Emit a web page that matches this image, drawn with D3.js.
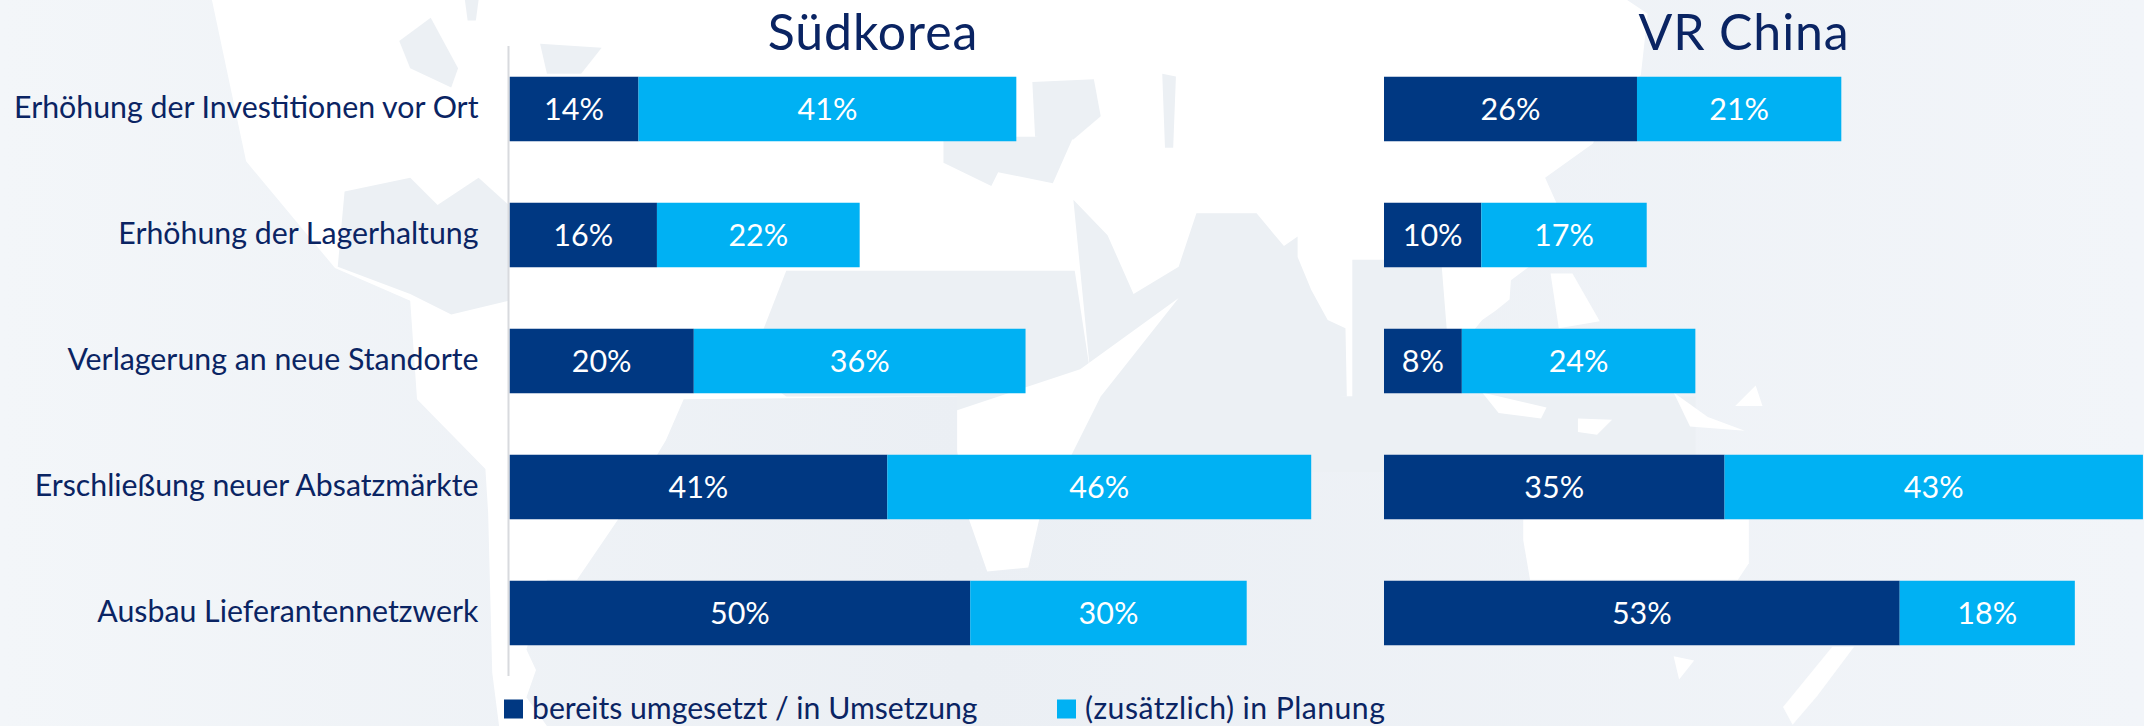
<!DOCTYPE html>
<html lang="de">
<head>
<meta charset="UTF-8" />
<title>Südkorea / VR China</title>
<script src="https://cdn.jsdelivr.net/npm/d3@7"></script>
<style>
  html, body { margin: 0; padding: 0; background: #fff; }
  text { font-family: Lato, "Noto Sans", sans-serif; }
</style>
</head>
<body>
<script>
var w = 2144, h = 726;

var categories = ["Erhöhung der Investitionen vor Ort", "Erhöhung der Lagerhaltung", "Verlagerung an neue Standorte", "Erschließung neuer Absatzmärkte", "Ausbau Lieferantennetzwerk"];
var koreaDone = [14, 16, 20, 41, 50];
var koreaPlanned = [41, 22, 36, 46, 30];
var chinaDone = [26, 10, 8, 35, 53];
var chinaPlanned = [21, 17, 24, 43, 18];
var seriesNames = ["bereits umgesetzt / in Umsetzung", "(zusätzlich) in Planung"];

var dark = "#003882", light = "#00b1f3", ink = "#0a2463";

// background world map, rough outlines, in the coordinates of the 1568 wide view
var seaShapes = [
  [[155,0],[1190,0],[1205,10],[1200,55],[1180,70],[1165,105],[1130,130],[1148,170],[1125,190],[1105,205],[1104,219],[1094,227],[1084,234],[1075,245],[1060,290],[985,290],[700,290],[500,292],[487,322],[452,380],[422,424],[400,424],[385,475],[392,490],[385,510],[400,531],[365,531],[360,492],[357,375],[355,343],[305,292],[300,220],[245,196],[180,118]]
];
var landShapes = [
  [[247,195],[252,140],[300,130],[320,150],[350,130],[372,150],[372,220],[330,230],[300,215]],
  [[292,30],[315,13],[335,50],[330,64],[300,50]],
  [[395,32],[440,35],[425,54],[400,54]],
  [[340,0],[350,0],[348,15],[342,15]],
  [[547,270],[575,198],[786,198],[800,290],[575,290]],
  [[620,102],[690,102],[690,119],[725,136],[730,126],[770,134],[785,100],[745,100]],
  [[755,60],[800,58],[805,85],[785,102],[757,100]],
  [[850,54],[860,56],[858,108],[852,108]],
  [[785,146],[810,172],[829,215],[862,195],[875,156],[919,156],[939,180],[949,173],[949,188],[959,212],[971,234],[984,240],[985,290],[800,300]],
  [[700,290],[989,290],[989,190],[1054,190],[1058,240],[1075,290],[1240,290],[1240,345],[700,345]]
];
var inletShapes = [
  [[862,218],[805,290],[760,380],[752,415],[722,418],[708,378],[700,330],[700,300],[790,270]],
  [[1114,380],[1279,380],[1279,412],[1271,424],[1119,424],[1114,395]],
  [[1356,473],[1329,509],[1311,530],[1304,517],[1340,473]],
  [[1084,287],[1131,298],[1127,306],[1096,302]],
  [[1154,306],[1179,307],[1168,318],[1154,316]],
  [[1224,287],[1249,305],[1276,315],[1236,312]],
  [[1284,282],[1289,297],[1269,297]],
  [[1224,480],[1239,483],[1228,497]],
  [[1134,200],[1150,200],[1170,235],[1140,240]]
];

var viewX = d3.scaleLinear().domain([0, 1568]).range([0, w]);
var outline = d3.line().x(function (d) { return viewX(d[0]); }).y(function (d) { return viewX(d[1]); });

var svg = d3.select("body").append("svg").attr("width", w).attr("height", h);

var grad = svg.append("defs").append("linearGradient").attr("id", "landFade");
grad.append("stop").attr("offset", "0").attr("stop-color", "#f3f6f9");
grad.append("stop").attr("offset", "0.45").attr("stop-color", "#ebeff4");
grad.append("stop").attr("offset", "1").attr("stop-color", "#f2f5f9");

svg.append("rect").attr("width", w).attr("height", h).attr("fill", "url(#landFade)");

function drawShapes(shapes, cls, fill) {
  svg.selectAll("path." + cls).data(shapes).enter().append("path").attr("class", cls)
    .attr("d", function (d) { return outline(d) + "Z"; }).attr("fill", fill);
}
drawShapes(seaShapes, "sea", "#fff");
drawShapes(landShapes, "land", "#ecf0f4");
drawShapes(inletShapes, "inlet", "#fff");

var y = d3.scaleBand().domain(categories).range([46, 676]).paddingInner(0.488).paddingOuter(0.244);

var panels = [
  { title: "Südkorea", titleX: 873, done: koreaDone, planned: koreaPlanned, x: d3.scaleLinear().domain([0, 100]).range([509.5, 1431]) },
  { title: "VR China", titleX: 1744, done: chinaDone, planned: chinaPlanned, x: d3.scaleLinear().domain([0, 100]).range([1384, 2357]) }
];

panels.forEach(function (p) {
  var g = svg.append("g");

  g.append("text").attr("x", p.titleX).attr("y", 49.5).attr("text-anchor", "middle")
    .attr("font-size", 50).attr("letter-spacing", 0.9).attr("fill", ink).text(p.title);

  categories.forEach(function (c, i) {
    var start = p.done[i];
    var end = start + p.planned[i];

    g.append("rect").attr("x", p.x(0)).attr("y", y(c)).attr("width", p.x(start) - p.x(0))
      .attr("height", y.bandwidth()).attr("fill", dark);
    g.append("rect").attr("x", p.x(start)).attr("y", y(c)).attr("width", p.x(end) - p.x(start))
      .attr("height", y.bandwidth()).attr("fill", light);

    g.append("text").attr("x", (p.x(0) + p.x(start)) / 2).attr("y", y(c) + 43)
      .attr("text-anchor", "middle").attr("font-size", 30.5).attr("fill", "#fff").text(start + "%");
    g.append("text").attr("x", (p.x(start) + p.x(end)) / 2).attr("y", y(c) + 43)
      .attr("text-anchor", "middle").attr("font-size", 30.5).attr("fill", "#fff").text(p.planned[i] + "%");
  });
});

// category labels and the line next to them
svg.append("line").attr("x1", 508.5).attr("x2", 508.5).attr("y1", 46).attr("y2", 676)
  .attr("stroke", "#d8dade").attr("stroke-width", 2);

var yAxis = d3.axisLeft(y).tickSize(0).tickPadding(31);
var axisG = svg.append("g").attr("transform", "translate(509.5,0)").call(yAxis);
axisG.select(".domain").remove();
axisG.selectAll("text").attr("font-family", "Lato, 'Noto Sans', sans-serif").attr("font-size", 30.3)
  .attr("fill", ink).attr("dy", "0.3em");

// legend
var legendX = [504, 1057];
var legendSpacing = [0, 0.45];
seriesNames.forEach(function (name, i) {
  svg.append("rect").attr("x", legendX[i]).attr("y", 699.5).attr("width", 19).attr("height", 19)
    .attr("fill", i === 0 ? dark : light);
  svg.append("text").attr("x", legendX[i] + 28).attr("y", 719).attr("font-size", 30.2)
    .attr("letter-spacing", legendSpacing[i]).attr("fill", ink).text(name);
});
</script>
</body>
</html>
